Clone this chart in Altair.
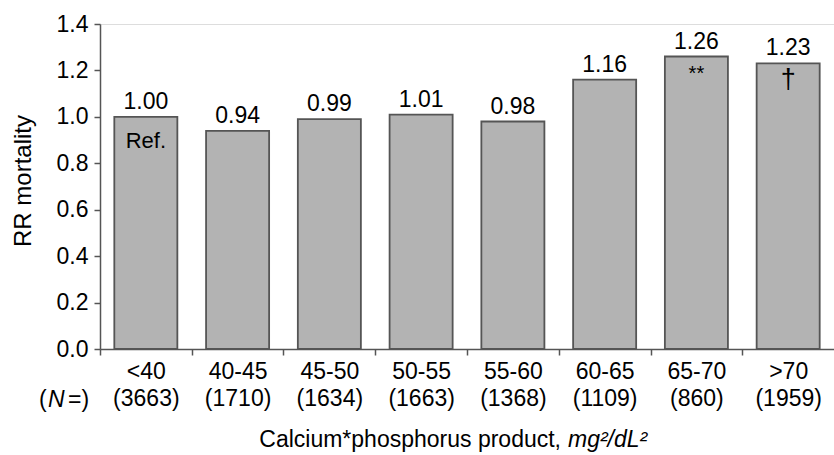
import altair as alt
import pandas as pd

categories = ["<40", "40-45", "45-50", "50-55", "55-60", "60-65", "65-70", ">70"]
counts = [3663, 1710, 1634, 1663, 1368, 1109, 860, 1959]
rr = [1.00, 0.94, 0.99, 1.01, 0.98, 1.16, 1.26, 1.23]
value_labels = ["1.00", "0.94", "0.99", "1.01", "0.98", "1.16", "1.26", "1.23"]
annotations = ["Ref.", "", "", "", "", "", "**", "\u2020"]
y_ticks = [0.0, 0.2, 0.4, 0.6, 0.8, 1.0, 1.2, 1.4]

y_title = "RR mortality"
x_title_plain = "Calcium*phosphorus product,"
x_title_italic = "mg\u00b2/dL\u00b2"
n_open, n_italic, n_close = "(", "N", "=)"

FONT = "Liberation Sans"
FS = 23
W, H = 734, 325
STEP = W / len(categories)

df = pd.DataFrame({
    "label": [f"{c}|({n})" for c, n in zip(categories, counts)],
    "rr": rr,
    "vlabel": value_labels,
    "note": annotations,
})
order = list(df["label"])

x = alt.X("label:N", sort=order,
          scale=alt.Scale(paddingInner=0.313, paddingOuter=0.156),
          axis=alt.Axis(title="", labelAngle=0, labelExpr="split(datum.label, '|')",
                        labelFontSize=FS, labelFont=FONT, labelColor="black",
                        labelLineHeight=27, labelPadding=5, labelBaseline="top",
                        tickOffset=-STEP / 2, labelOffset=STEP / 2,
                        tickSize=6, tickColor="#555", domainColor="#555",
                        tickWidth=1.5, domainWidth=1.5))
y = alt.Y("rr:Q", scale=alt.Scale(domain=[0, 1.4], nice=False),
          axis=alt.Axis(title="", values=y_ticks, format=".1f", grid=False,
                        labelFontSize=FS, labelFont=FONT, labelColor="black",
                        labelPadding=6, tickSize=6, tickColor="#555", domainColor="#555",
                        tickWidth=1.5, domainWidth=1.5))

base = alt.Chart(df)
xe = alt.X("label:N", sort=order)
bars = base.mark_bar(color="#b3b3b3", stroke="#555555", strokeWidth=1.8).encode(x=x, y=y)
vals = base.mark_text(fontSize=FS, font=FONT, baseline="alphabetic", dy=-8, color="black").encode(
    x=xe, y="rr:Q", text="vlabel:N")
note_ref = base.transform_filter("datum.note == 'Ref.'").mark_text(
    fontSize=22, font=FONT, baseline="top", dy=14, color="black").encode(x=xe, y="rr:Q", text="note:N")
note_ast = base.transform_filter("datum.note == '**'").mark_text(
    fontSize=20, font=FONT, baseline="top", dy=7, color="black").encode(x=xe, y="rr:Q", text="note:N")
note_dag = base.transform_filter("datum.note == '\u2020'").mark_text(
    fontSize=27, font=FONT, baseline="top", dy=4, color="black").encode(x=xe, y="rr:Q", text="note:N")

def fixed_text(txt, xv, yv, **kw):
    return alt.Chart(pd.DataFrame({"t": [txt]})).mark_text(font=FONT, color="black", **kw).encode(
        text="t:N", x=alt.value(xv), y=alt.value(yv))

ytitle = fixed_text(y_title, -76, 157, fontSize=24, angle=270, align="center", baseline="middle")
n1 = fixed_text(n_open, -61, 376, fontSize=FS, align="left", baseline="middle")
n2 = fixed_text(n_italic, -52, 376, fontSize=FS, align="left", baseline="middle", fontStyle="italic")
n3 = fixed_text(n_close, -32, 376, fontSize=FS, align="left", baseline="middle")
xt1 = fixed_text(x_title_plain, 461, 416, fontSize=FS, align="right", baseline="middle")
xt2 = fixed_text(x_title_italic, 468, 416, fontSize=FS, align="left", baseline="middle", fontStyle="italic")

chart = alt.layer(bars, vals, note_ref, note_ast, note_dag, ytitle, n1, n2, n3, xt1, xt2).properties(
    width=W, height=H,
    autosize=alt.AutoSizeParams(type="none"),
    padding={"left": 100, "top": 24, "right": 0, "bottom": 106},
).configure_view(stroke=None).configure(background="white")

chart.save("out.html", embed_options={"renderer": "svg", "actions": False})
